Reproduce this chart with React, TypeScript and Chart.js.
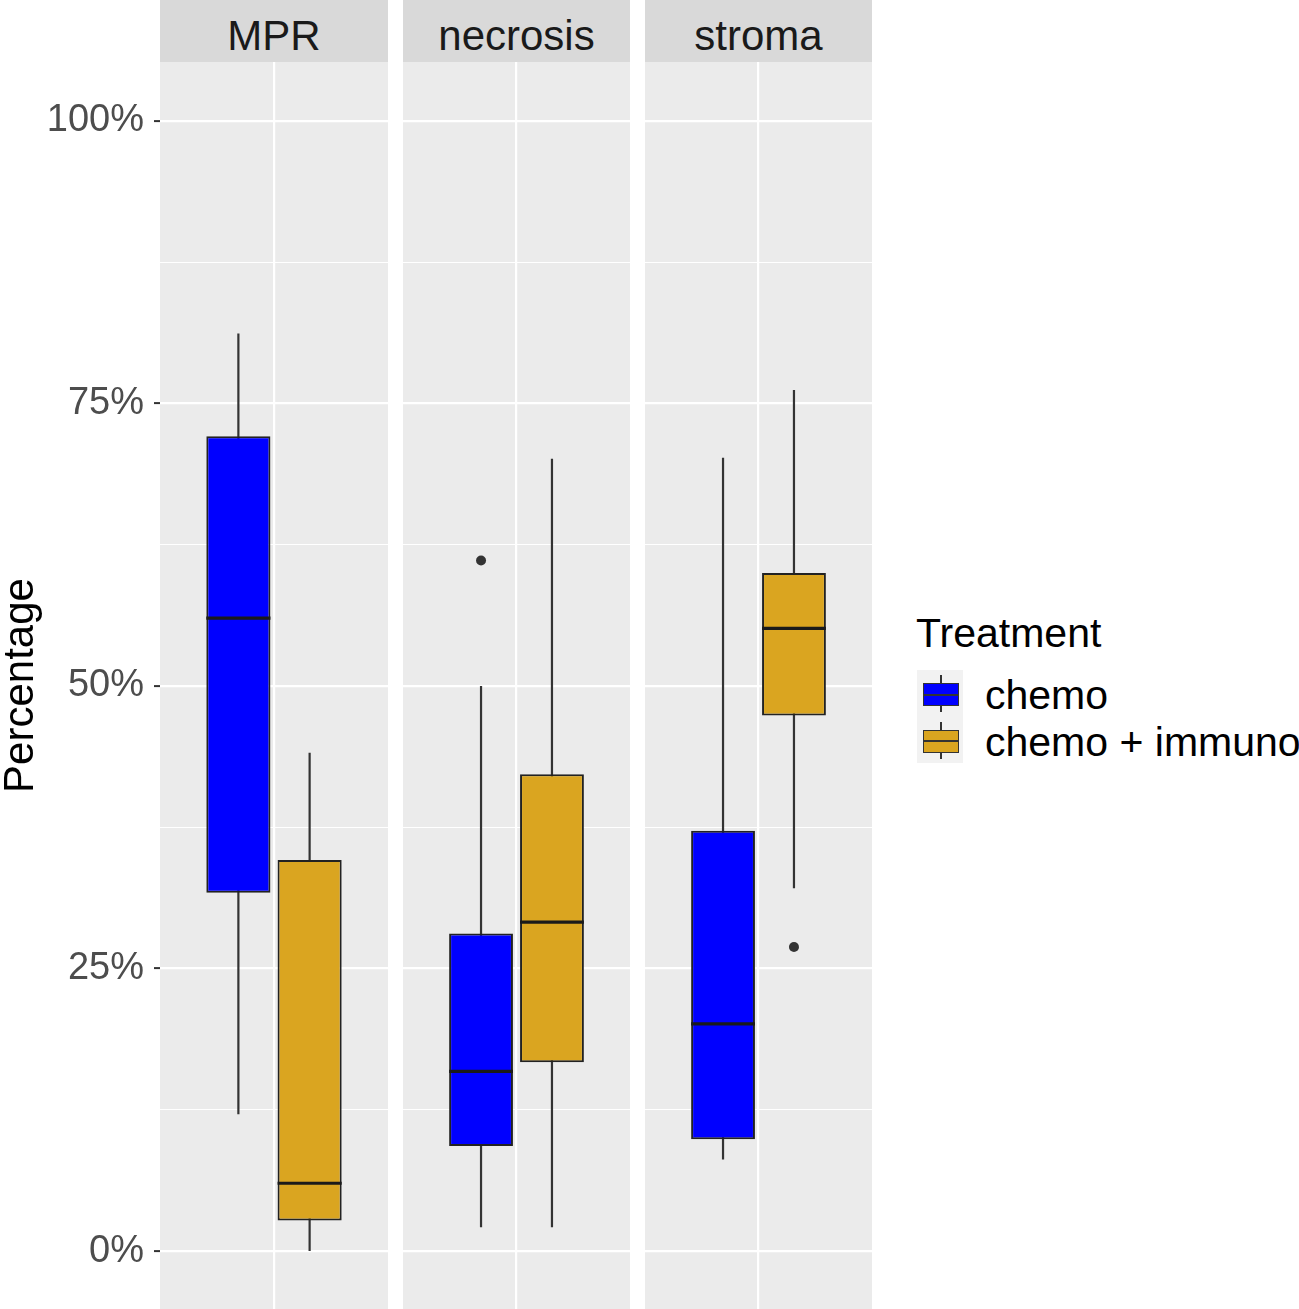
import { useEffect, useRef } from "react";
import { Chart, registerables } from "chart.js";

Chart.register(...registerables);

const FACETS = ["MPR", "necrosis", "stroma"];
const TREATMENTS = ["chemo", "chemo + immuno"];

// chemo, one value per facet (percent)
const CHEMO_LOW = [12.1, 2.1, 8.1];
const CHEMO_Q1 = [31.7, 9.3, 9.9];
const CHEMO_MEDIAN = [56.0, 15.9, 20.1];
const CHEMO_Q3 = [72.1, 28.1, 37.2];
const CHEMO_HIGH = [81.2, 50.0, 70.2];
const CHEMO_OUTLIERS: number[][] = [[], [61.1], []];

// chemo + immuno
const IMMUNO_LOW = [0, 2.1, 32.1];
const IMMUNO_Q1 = [2.7, 16.7, 47.4];
const IMMUNO_MEDIAN = [6.0, 29.1, 55.1];
const IMMUNO_Q3 = [34.6, 42.2, 60.0];
const IMMUNO_HIGH = [44.1, 70.1, 76.2];
const IMMUNO_OUTLIERS: number[][] = [[], [], [26.9]];

const MAJOR_TICKS = [0, 25, 50, 75, 100];
const MINOR_TICKS = [12.5, 37.5, 62.5, 87.5];

const FONT = "'Liberation Sans', Arial, sans-serif";
const INK = "#333333";
const PANEL_BG = "#EBEBEB";
const STRIP_BG = "#D9D9D9";

// ggplot-like discrete axis: one slot at x = 1, expanded by 0.6
const X_MIN = 0.4;
const X_MAX = 1.6;
const DODGE = 0.375;
const BOX_FRAC = 0.9;
const BOX_HALF = (DODGE * BOX_FRAC) / 2;
const Y_MIN = -5.13;
const Y_MAX = 105.22;

const GROUPS = [
  {
    color: "#0000FF",
    low: CHEMO_LOW,
    q1: CHEMO_Q1,
    median: CHEMO_MEDIAN,
    q3: CHEMO_Q3,
    high: CHEMO_HIGH,
    outliers: CHEMO_OUTLIERS,
  },
  {
    color: "#DAA520",
    low: IMMUNO_LOW,
    q1: IMMUNO_Q1,
    median: IMMUNO_MEDIAN,
    q3: IMMUNO_Q3,
    high: IMMUNO_HIGH,
    outliers: IMMUNO_OUTLIERS,
  },
];

const PANEL_LEFTS = [160, 403, 645];
const PANEL_WIDTHS = [228, 227, 227];
const AXIS_W = 160;
const PANEL_TOP = 62;
const PANEL_H = 1247;

const isMajor = (v: number | undefined) =>
  v !== undefined && MAJOR_TICKS.includes(v);

const panelBackground = {
  id: "panelBackground",
  beforeDraw(chart: Chart) {
    const { ctx, chartArea: a } = chart;
    ctx.save();
    ctx.fillStyle = PANEL_BG;
    ctx.fillRect(a.left, a.top, a.width, a.height);
    ctx.restore();
  },
};

// no label overflow padding: the panel fills the canvas
const noPadding = (s: any) => {
  s.paddingTop = 0;
  s.paddingBottom = 0;
  s.paddingLeft = 0;
  s.paddingRight = 0;
};

const Panel = ({ facet, withAxis }: { facet: number; withAxis: boolean }) => {
  const chartRef = useRef<HTMLCanvasElement>(null);
  const width = PANEL_WIDTHS[facet] + (withAxis ? AXIS_W : 0);
  const left = PANEL_LEFTS[facet] - (withAxis ? AXIS_W : 0);

  useEffect(() => {
    if (!chartRef.current) return;

    const datasets: any[] = [];
    GROUPS.forEach((g, t) => {
      const cx = 1 + (t - 0.5) * DODGE;
      // whisker first so the box covers it
      datasets.push({
        type: "line",
        data: [
          { x: cx, y: g.low[facet] },
          { x: cx, y: g.high[facet] },
        ],
        borderColor: INK,
        borderWidth: 2.2,
        pointRadius: 0,
        order: 3,
      });
      datasets.push({
        type: "bar",
        data: [{ x: cx, y: [g.q1[facet], g.q3[facet]] }],
        backgroundColor: g.color,
        borderColor: "#222222",
        borderWidth: 2,
        borderSkipped: false,
        grouped: false,
        categoryPercentage: BOX_FRAC,
        barPercentage: 1,
        order: 2,
      });
      datasets.push({
        type: "line",
        data: [
          { x: cx - BOX_HALF, y: g.median[facet] },
          { x: cx + BOX_HALF, y: g.median[facet] },
        ],
        borderColor: "#1A1A1A",
        borderWidth: 3.2,
        pointRadius: 0,
        order: 1,
      });
      datasets.push({
        type: "scatter",
        data: g.outliers[facet].map((v) => ({ x: cx, y: v })),
        pointRadius: 5,
        backgroundColor: INK,
        borderWidth: 0,
        order: 0,
      });
    });

    const chart = new Chart(chartRef.current, {
      type: "bar",
      data: { datasets },
      plugins: [panelBackground],
      options: {
        animation: false,
        responsive: false,
        maintainAspectRatio: false,
        events: [],
        layout: { autoPadding: false, padding: 0 },
        plugins: {
          legend: { display: false },
          tooltip: { enabled: false },
        },
        scales: {
          x: {
            type: "linear",
            min: X_MIN,
            max: X_MAX,
            offset: false,
            afterBuildTicks: (s: any) => {
              s.ticks = [{ value: 1 }];
            },
            afterFit: (s: any) => {
              s.height = 0;
              noPadding(s);
            },
            border: { display: false },
            grid: {
              color: "#FFFFFF",
              lineWidth: 2.2,
              drawTicks: false,
              offset: false,
            },
            ticks: { display: false },
          },
          y: {
            type: "linear",
            min: Y_MIN,
            max: Y_MAX,
            beginAtZero: false,
            afterBuildTicks: (s: any) => {
              s.ticks = [...MAJOR_TICKS, ...MINOR_TICKS]
                .sort((a, b) => a - b)
                .map((v) => ({ value: v }));
            },
            afterFit: (s: any) => {
              s.width = withAxis ? AXIS_W : 0;
              noPadding(s);
            },
            border: { display: false },
            grid: {
              color: "#FFFFFF",
              lineWidth: (c: any) => (isMajor(c.tick?.value) ? 2.2 : 1.1),
              drawTicks: withAxis,
              tickLength: 6,
              tickWidth: 2,
              tickColor: (c: any) =>
                isMajor(c.tick?.value) ? INK : "rgba(0,0,0,0)",
            },
            ticks: {
              display: withAxis,
              autoSkip: false,
              padding: 10,
              color: "#4D4D4D",
              font: { family: FONT, size: 38 },
              callback: (v: any) => (isMajor(Number(v)) ? `${v}%` : ""),
            },
            title: {
              display: withAxis,
              text: "Percentage",
              color: "#000000",
              font: { family: FONT, size: 42, lineHeight: 1 },
              padding: 0,
            },
          },
        },
      } as any,
    });

    return () => {
      chart.destroy();
    };
  }, [facet, withAxis]);

  return (
    <canvas
      ref={chartRef}
      width={width}
      height={PANEL_H}
      style={{
        position: "absolute",
        left,
        top: PANEL_TOP,
        width,
        height: PANEL_H,
      }}
    />
  );
};

const LegendKey = ({ color, top }: { color: string; top: number }) => (
  <div
    style={{
      position: "absolute",
      left: 917,
      top,
      width: 46,
      height: 46.5,
      background: "#F2F2F2",
    }}
  >
    <div
      style={{
        position: "absolute",
        left: 23,
        top: 5,
        width: 2,
        height: 37,
        background: INK,
      }}
    />
    <div
      style={{
        position: "absolute",
        left: 6,
        top: 13,
        width: 36,
        height: 23,
        boxSizing: "border-box",
        border: `1.5px solid ${INK}`,
        background: color,
      }}
    />
    <div
      style={{
        position: "absolute",
        left: 6,
        top: 23.5,
        width: 36,
        height: 2,
        background: INK,
      }}
    />
  </div>
);

const textAt = (baseline: number, size: number) => baseline - 0.8465 * size;

export default function App() {
  return (
    <div
      style={{
        position: "absolute",
        left: 0,
        top: 0,
        width: 1299,
        height: 1309,
        background: "#FFFFFF",
        overflow: "hidden",
        fontFamily: FONT,
      }}
    >
      {FACETS.map((name, i) => (
        <div
          key={name}
          style={{
            position: "absolute",
            left: PANEL_LEFTS[i],
            top: 0,
            width: PANEL_WIDTHS[i],
            height: 57,
            paddingTop: 5,
            background: STRIP_BG,
            color: "#1A1A1A",
            fontSize: 42,
            lineHeight: "62px",
            textAlign: "center",
            overflow: "hidden",
          }}
        >
          {name}
        </div>
      ))}

      {FACETS.map((name, i) => (
        <Panel key={name} facet={i} withAxis={i === 0} />
      ))}

      <div
        style={{
          position: "absolute",
          left: 916,
          top: textAt(648, 41),
          fontSize: 41,
          lineHeight: "41px",
          color: "#000000",
          whiteSpace: "nowrap",
        }}
      >
        Treatment
      </div>
      {TREATMENTS.map((label, t) => (
        <div key={label}>
          <LegendKey color={GROUPS[t].color} top={670 + t * 46.5} />
          <div
            style={{
              position: "absolute",
              left: 985,
              top: textAt(710 + t * 47, 41),
              fontSize: 41,
              lineHeight: "41px",
              color: "#000000",
              whiteSpace: "nowrap",
            }}
          >
            {label}
          </div>
        </div>
      ))}
    </div>
  );
}
